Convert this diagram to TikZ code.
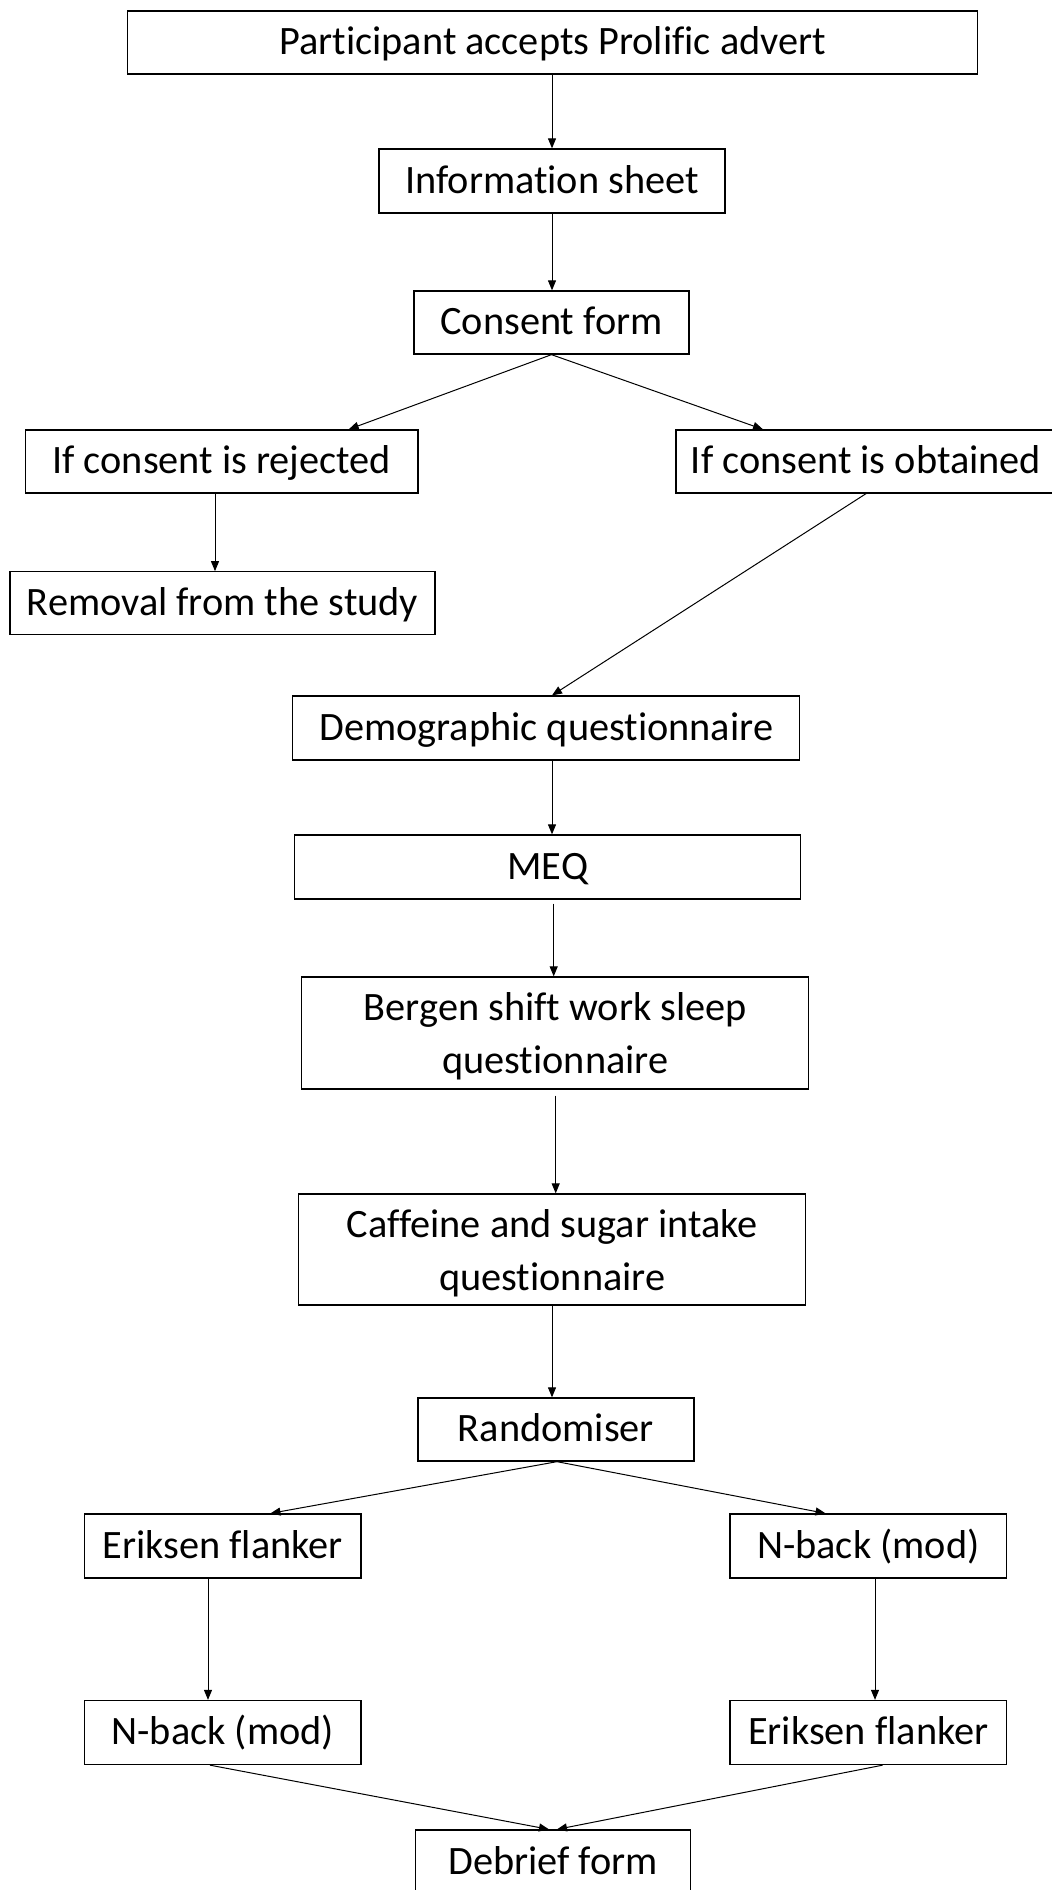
\documentclass[tikz,border=0pt]{standalone}
\usepackage{fontspec}
\setmainfont[Ligatures=NoCommon]{Carlito}
\usetikzlibrary{arrows.meta}

\tikzset{
  stagebox/.style={draw=black, line width=1.3pt, fill=white, inner sep=0pt,
    font=\fontsize{40.3}{53}\selectfont, text height=24pt, text depth=0pt},
  twoline/.style={draw=black, line width=1.3pt, fill=white, inner sep=0pt,
    align=center, font=\fontsize{40.3}{53}\selectfont, text depth=0pt},
  flow/.style={draw=black, line width=1pt,
    -{Triangle[length=10pt,width=8pt]}},
}

\begin{document}
\begin{tikzpicture}[x=1pt, y=-1pt]
  \useasboundingbox (0,0) rectangle (1052,1890);
  \clip (0,0) rectangle (1052,1890);
  \fill[white] (0,0) rectangle (1052,1890);

  % study stages
  \node[stagebox, minimum width=850pt, minimum height=63pt] (advert) at (552.7,42.4) {Participant accepts Prolific advert};
  \node[stagebox, minimum width=346pt, minimum height=64pt] (info) at (552,181) {Information sheet};
  \node[stagebox, minimum width=275pt, minimum height=63pt] (consent) at (551.5,322.5) {Consent form};
  \node[stagebox, minimum width=392.5pt, minimum height=63pt] (rejected) at (221.7,461.5) {If consent is rejected};
  \node[stagebox, minimum width=380pt, minimum height=63pt] (obtained) at (866,461.5) {If consent is obtained};
  \node[stagebox, minimum width=425pt, minimum height=63pt] (removal) at (222.5,603.3) {Removal from the study};
  \node[stagebox, minimum width=507pt, minimum height=64pt] (demo) at (546.3,728) {Demographic questionnaire};
  \node[stagebox, minimum width=506pt, minimum height=64pt] (meq) at (547.8,867) {MEQ};
  \node[twoline, minimum width=507pt, minimum height=112pt] (bergen) at (555.3,1033) {Bergen shift work sleep\\questionnaire};
  \node[twoline, minimum width=507pt, minimum height=111pt] (caffeine) at (552.3,1249.5) {Caffeine and sugar intake\\questionnaire};
  \node[stagebox, minimum width=276pt, minimum height=63pt] (random) at (556,1429.5) {Randomiser};
  \node[stagebox, minimum width=276.4pt, minimum height=64pt] (eriksenA) at (222.8,1546) {Eriksen flanker};
  \node[stagebox, minimum width=276.7pt, minimum height=64pt] (nbackA) at (868.3,1546) {N-back (mod)};
  \node[stagebox, minimum width=276.4pt, minimum height=64pt] (nbackB) at (222.8,1732.5) {N-back (mod)};
  \node[stagebox, minimum width=276.7pt, minimum height=64pt] (eriksenB) at (868.3,1732.5) {Eriksen flanker};
  \node[stagebox, minimum width=275.2pt, minimum height=64pt] (debrief) at (553,1862) {Debrief form};

  % connectors
  \draw[flow] ([xshift=-0.7pt]advert.south) -- (info.north);
  \draw[flow] (info.south) -- ([xshift=0.5pt]consent.north);
  \draw[flow] (consent.south) -- ([xshift=127pt]rejected.north);
  \draw[flow] (consent.south) -- ([xshift=-103pt]obtained.north);
  \draw[flow] ([xshift=-6.7pt]rejected.south) -- ([xshift=-7.5pt]removal.north);
  \draw[flow] (obtained.south) -- ([xshift=5.7pt]demo.north);
  \draw[flow] ([xshift=5.7pt]demo.south) -- ([xshift=4.2pt]meq.north);
  \draw[flow, shorten <=4pt] ([xshift=5.9pt]meq.south) -- ([xshift=-1.6pt]bergen.north);
  \draw[flow, shorten <=6pt] ([xshift=0.4pt]bergen.south) -- ([xshift=3.4pt]caffeine.north);
  \draw[flow] ([xshift=-0.3pt]caffeine.south) -- ([xshift=-4pt]random.north);
  \draw[flow] ([xshift=1pt]random.south) -- ([xshift=47.7pt]eriksenA.north);
  \draw[flow] ([xshift=1pt]random.south) -- ([xshift=-42.8pt]nbackA.north);
  \draw[flow] ([xshift=-14.8pt]eriksenA.south) -- ([xshift=-14.8pt]nbackB.north);
  \draw[flow] ([xshift=6.7pt]nbackA.south) -- ([xshift=6.7pt]eriksenB.north);
  \draw[flow] ([xshift=-12.8pt]nbackB.south) -- ([xshift=-4pt]debrief.north);
  \draw[flow] ([xshift=14.3pt]eriksenB.south) -- ([xshift=4pt]debrief.north);
\end{tikzpicture}
\end{document}
